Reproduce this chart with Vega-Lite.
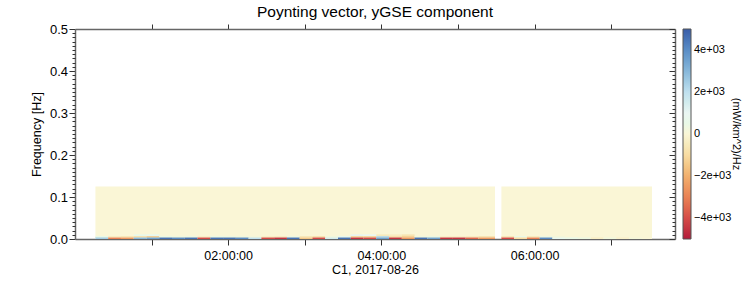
{
  "$schema": "https://vega.github.io/schema/vega-lite/v6.json",
  "autosize": {"type": "none"},
  "width": 600,
  "height": 210,
  "padding": {"left": 75, "top": 29, "right": 75, "bottom": 61},
  "background": "white",
  "config": {
    "font": "Liberation Sans",
    "view": {"stroke": null},
    "axis": {"grid": false, "domainColor": "#666", "domainWidth": 1.5, "tickColor": "#333", "tickWidth": 1, "labelColor": "black", "titleColor": "black", "labelFont": "Liberation Sans", "titleFont": "Liberation Sans", "titleFontWeight": "normal"},
    "legend": {"labelFont": "Liberation Sans", "titleFont": "Liberation Sans", "labelColor": "black", "titleColor": "black"}
  },
  "title": {"text": "Poynting vector, yGSE component", "fontSize": 15.5, "fontWeight": "normal", "font": "Liberation Sans", "color": "black", "anchor": "middle", "offset": 3},
  "data": {"values": [
    {"t0": "2017-08-26T00:16:00Z", "t1": "2017-08-26T05:29:00Z", "f0": 0, "f1": 0.125, "v": 0},
    {"t0": "2017-08-26T05:34:00Z", "t1": "2017-08-26T07:32:00Z", "f0": 0, "f1": 0.125, "v": 0},
    {"t0": "2017-08-26T00:16:00Z", "t1": "2017-08-26T00:26:00Z", "f0": 0, "f1": 0.004, "v": 2500},
    {"t0": "2017-08-26T00:26:00Z", "t1": "2017-08-26T00:36:00Z", "f0": 0, "f1": 0.004, "v": -3000},
    {"t0": "2017-08-26T00:36:00Z", "t1": "2017-08-26T00:46:00Z", "f0": 0, "f1": 0.004, "v": -2500},
    {"t0": "2017-08-26T00:46:00Z", "t1": "2017-08-26T00:56:00Z", "f0": 0, "f1": 0.004, "v": 3000},
    {"t0": "2017-08-26T00:56:00Z", "t1": "2017-08-26T01:06:00Z", "f0": 0, "f1": 0.004, "v": 3500},
    {"t0": "2017-08-26T01:06:00Z", "t1": "2017-08-26T01:16:00Z", "f0": 0, "f1": 0.004, "v": 4500},
    {"t0": "2017-08-26T01:16:00Z", "t1": "2017-08-26T01:26:00Z", "f0": 0, "f1": 0.004, "v": 4000},
    {"t0": "2017-08-26T01:26:00Z", "t1": "2017-08-26T01:36:00Z", "f0": 0, "f1": 0.004, "v": 4500},
    {"t0": "2017-08-26T01:36:00Z", "t1": "2017-08-26T01:46:00Z", "f0": 0, "f1": 0.004, "v": -4000},
    {"t0": "2017-08-26T01:46:00Z", "t1": "2017-08-26T01:56:00Z", "f0": 0, "f1": 0.004, "v": 4500},
    {"t0": "2017-08-26T01:56:00Z", "t1": "2017-08-26T02:06:00Z", "f0": 0, "f1": 0.004, "v": 4500},
    {"t0": "2017-08-26T02:06:00Z", "t1": "2017-08-26T02:16:00Z", "f0": 0, "f1": 0.004, "v": 4000},
    {"t0": "2017-08-26T02:16:00Z", "t1": "2017-08-26T02:26:00Z", "f0": 0, "f1": 0.004, "v": 2000},
    {"t0": "2017-08-26T02:26:00Z", "t1": "2017-08-26T02:36:00Z", "f0": 0, "f1": 0.004, "v": -4000},
    {"t0": "2017-08-26T02:36:00Z", "t1": "2017-08-26T02:46:00Z", "f0": 0, "f1": 0.004, "v": -4500},
    {"t0": "2017-08-26T02:46:00Z", "t1": "2017-08-26T02:56:00Z", "f0": 0, "f1": 0.004, "v": 4500},
    {"t0": "2017-08-26T02:56:00Z", "t1": "2017-08-26T03:06:00Z", "f0": 0, "f1": 0.004, "v": -1500},
    {"t0": "2017-08-26T03:06:00Z", "t1": "2017-08-26T03:16:00Z", "f0": 0, "f1": 0.004, "v": -4000},
    {"t0": "2017-08-26T03:16:00Z", "t1": "2017-08-26T03:26:00Z", "f0": 0, "f1": 0.004, "v": 1500},
    {"t0": "2017-08-26T03:26:00Z", "t1": "2017-08-26T03:36:00Z", "f0": 0, "f1": 0.004, "v": 4500},
    {"t0": "2017-08-26T03:36:00Z", "t1": "2017-08-26T03:46:00Z", "f0": 0, "f1": 0.004, "v": -4500},
    {"t0": "2017-08-26T03:46:00Z", "t1": "2017-08-26T03:56:00Z", "f0": 0, "f1": 0.004, "v": -4000},
    {"t0": "2017-08-26T03:56:00Z", "t1": "2017-08-26T04:06:00Z", "f0": 0, "f1": 0.004, "v": 3500},
    {"t0": "2017-08-26T04:06:00Z", "t1": "2017-08-26T04:16:00Z", "f0": 0, "f1": 0.004, "v": -4500},
    {"t0": "2017-08-26T04:16:00Z", "t1": "2017-08-26T04:26:00Z", "f0": 0, "f1": 0.004, "v": -2500},
    {"t0": "2017-08-26T04:26:00Z", "t1": "2017-08-26T04:36:00Z", "f0": 0, "f1": 0.004, "v": 4500},
    {"t0": "2017-08-26T04:36:00Z", "t1": "2017-08-26T04:46:00Z", "f0": 0, "f1": 0.004, "v": 3500},
    {"t0": "2017-08-26T04:46:00Z", "t1": "2017-08-26T04:56:00Z", "f0": 0, "f1": 0.004, "v": -4500},
    {"t0": "2017-08-26T04:56:00Z", "t1": "2017-08-26T05:06:00Z", "f0": 0, "f1": 0.004, "v": -4500},
    {"t0": "2017-08-26T05:06:00Z", "t1": "2017-08-26T05:16:00Z", "f0": 0, "f1": 0.004, "v": -3500},
    {"t0": "2017-08-26T05:16:00Z", "t1": "2017-08-26T05:29:00Z", "f0": 0, "f1": 0.004, "v": -2500},
    {"t0": "2017-08-26T00:16:00Z", "t1": "2017-08-26T00:26:00Z", "f0": 0.004, "f1": 0.007, "v": 500},
    {"t0": "2017-08-26T00:26:00Z", "t1": "2017-08-26T00:36:00Z", "f0": 0.004, "f1": 0.007, "v": -400},
    {"t0": "2017-08-26T00:36:00Z", "t1": "2017-08-26T00:46:00Z", "f0": 0.004, "f1": 0.007, "v": -600},
    {"t0": "2017-08-26T00:46:00Z", "t1": "2017-08-26T00:56:00Z", "f0": 0.004, "f1": 0.007, "v": -900},
    {"t0": "2017-08-26T00:56:00Z", "t1": "2017-08-26T01:06:00Z", "f0": 0.004, "f1": 0.007, "v": -1400},
    {"t0": "2017-08-26T01:06:00Z", "t1": "2017-08-26T01:16:00Z", "f0": 0.004, "f1": 0.007, "v": 400},
    {"t0": "2017-08-26T01:16:00Z", "t1": "2017-08-26T01:26:00Z", "f0": 0.004, "f1": 0.007, "v": 200},
    {"t0": "2017-08-26T01:26:00Z", "t1": "2017-08-26T01:36:00Z", "f0": 0.004, "f1": 0.007, "v": 300},
    {"t0": "2017-08-26T01:36:00Z", "t1": "2017-08-26T01:46:00Z", "f0": 0.004, "f1": 0.007, "v": -300},
    {"t0": "2017-08-26T01:46:00Z", "t1": "2017-08-26T01:56:00Z", "f0": 0.004, "f1": 0.007, "v": 400},
    {"t0": "2017-08-26T01:56:00Z", "t1": "2017-08-26T02:06:00Z", "f0": 0.004, "f1": 0.007, "v": 300},
    {"t0": "2017-08-26T02:06:00Z", "t1": "2017-08-26T02:16:00Z", "f0": 0.004, "f1": 0.007, "v": 200},
    {"t0": "2017-08-26T02:16:00Z", "t1": "2017-08-26T02:26:00Z", "f0": 0.004, "f1": 0.007, "v": 100},
    {"t0": "2017-08-26T02:26:00Z", "t1": "2017-08-26T02:36:00Z", "f0": 0.004, "f1": 0.007, "v": -300},
    {"t0": "2017-08-26T02:36:00Z", "t1": "2017-08-26T02:46:00Z", "f0": 0.004, "f1": 0.007, "v": -400},
    {"t0": "2017-08-26T02:46:00Z", "t1": "2017-08-26T02:56:00Z", "f0": 0.004, "f1": 0.007, "v": 300},
    {"t0": "2017-08-26T02:56:00Z", "t1": "2017-08-26T03:06:00Z", "f0": 0.004, "f1": 0.007, "v": -600},
    {"t0": "2017-08-26T03:06:00Z", "t1": "2017-08-26T03:16:00Z", "f0": 0.004, "f1": 0.007, "v": -800},
    {"t0": "2017-08-26T03:16:00Z", "t1": "2017-08-26T03:26:00Z", "f0": 0.004, "f1": 0.007, "v": 200},
    {"t0": "2017-08-26T03:26:00Z", "t1": "2017-08-26T03:36:00Z", "f0": 0.004, "f1": 0.007, "v": 700},
    {"t0": "2017-08-26T03:36:00Z", "t1": "2017-08-26T03:46:00Z", "f0": 0.004, "f1": 0.007, "v": -1200},
    {"t0": "2017-08-26T03:46:00Z", "t1": "2017-08-26T03:56:00Z", "f0": 0.004, "f1": 0.007, "v": -1200},
    {"t0": "2017-08-26T03:56:00Z", "t1": "2017-08-26T04:06:00Z", "f0": 0.004, "f1": 0.007, "v": 2200},
    {"t0": "2017-08-26T04:06:00Z", "t1": "2017-08-26T04:16:00Z", "f0": 0.004, "f1": 0.007, "v": -900},
    {"t0": "2017-08-26T04:16:00Z", "t1": "2017-08-26T04:26:00Z", "f0": 0.004, "f1": 0.007, "v": -1300},
    {"t0": "2017-08-26T04:26:00Z", "t1": "2017-08-26T04:36:00Z", "f0": 0.004, "f1": 0.007, "v": 200},
    {"t0": "2017-08-26T04:36:00Z", "t1": "2017-08-26T04:46:00Z", "f0": 0.004, "f1": 0.007, "v": 300},
    {"t0": "2017-08-26T04:46:00Z", "t1": "2017-08-26T04:56:00Z", "f0": 0.004, "f1": 0.007, "v": -300},
    {"t0": "2017-08-26T04:56:00Z", "t1": "2017-08-26T05:06:00Z", "f0": 0.004, "f1": 0.007, "v": -300},
    {"t0": "2017-08-26T05:06:00Z", "t1": "2017-08-26T05:16:00Z", "f0": 0.004, "f1": 0.007, "v": -400},
    {"t0": "2017-08-26T05:16:00Z", "t1": "2017-08-26T05:29:00Z", "f0": 0.004, "f1": 0.007, "v": -700},
    {"t0": "2017-08-26T00:46:00Z", "t1": "2017-08-26T00:56:00Z", "f0": 0.007, "f1": 0.011, "v": 600},
    {"t0": "2017-08-26T00:56:00Z", "t1": "2017-08-26T01:06:00Z", "f0": 0.007, "f1": 0.011, "v": 800},
    {"t0": "2017-08-26T03:36:00Z", "t1": "2017-08-26T03:46:00Z", "f0": 0.007, "f1": 0.011, "v": 1100},
    {"t0": "2017-08-26T03:46:00Z", "t1": "2017-08-26T03:56:00Z", "f0": 0.007, "f1": 0.011, "v": 900},
    {"t0": "2017-08-26T03:56:00Z", "t1": "2017-08-26T04:06:00Z", "f0": 0.007, "f1": 0.011, "v": -500},
    {"t0": "2017-08-26T04:06:00Z", "t1": "2017-08-26T04:16:00Z", "f0": 0.007, "f1": 0.011, "v": -400},
    {"t0": "2017-08-26T04:16:00Z", "t1": "2017-08-26T04:26:00Z", "f0": 0.007, "f1": 0.011, "v": -700},
    {"t0": "2017-08-26T05:34:00Z", "t1": "2017-08-26T05:44:00Z", "f0": 0, "f1": 0.004, "v": -4000},
    {"t0": "2017-08-26T05:44:00Z", "t1": "2017-08-26T05:54:00Z", "f0": 0, "f1": 0.004, "v": -1000},
    {"t0": "2017-08-26T05:54:00Z", "t1": "2017-08-26T06:04:00Z", "f0": 0, "f1": 0.004, "v": -3000},
    {"t0": "2017-08-26T06:04:00Z", "t1": "2017-08-26T06:14:00Z", "f0": 0, "f1": 0.004, "v": 4000},
    {"t0": "2017-08-26T06:14:00Z", "t1": "2017-08-26T06:24:00Z", "f0": 0, "f1": 0.004, "v": 800},
    {"t0": "2017-08-26T06:24:00Z", "t1": "2017-08-26T06:34:00Z", "f0": 0, "f1": 0.004, "v": 500},
    {"t0": "2017-08-26T06:34:00Z", "t1": "2017-08-26T06:44:00Z", "f0": 0, "f1": 0.004, "v": 300},
    {"t0": "2017-08-26T06:44:00Z", "t1": "2017-08-26T06:54:00Z", "f0": 0, "f1": 0.004, "v": -300},
    {"t0": "2017-08-26T06:54:00Z", "t1": "2017-08-26T07:04:00Z", "f0": 0, "f1": 0.004, "v": 200},
    {"t0": "2017-08-26T07:04:00Z", "t1": "2017-08-26T07:14:00Z", "f0": 0, "f1": 0.004, "v": -200},
    {"t0": "2017-08-26T07:14:00Z", "t1": "2017-08-26T07:24:00Z", "f0": 0, "f1": 0.004, "v": 100},
    {"t0": "2017-08-26T05:34:00Z", "t1": "2017-08-26T05:44:00Z", "f0": 0.004, "f1": 0.007, "v": -600},
    {"t0": "2017-08-26T05:44:00Z", "t1": "2017-08-26T05:54:00Z", "f0": 0.004, "f1": 0.007, "v": 500},
    {"t0": "2017-08-26T05:54:00Z", "t1": "2017-08-26T06:04:00Z", "f0": 0.004, "f1": 0.007, "v": -500},
    {"t0": "2017-08-26T06:04:00Z", "t1": "2017-08-26T06:14:00Z", "f0": 0.004, "f1": 0.007, "v": 300},
    {"t0": "2017-08-26T06:14:00Z", "t1": "2017-08-26T06:24:00Z", "f0": 0.004, "f1": 0.007, "v": 150}
  ]},
  "layer": [
    {
      "mark": {"type": "rect", "strokeWidth": 0},
      "encoding": {
        "x": {"field": "t0", "type": "temporal",
          "scale": {"type": "utc", "domain": [{"year": 2017, "month": 8, "date": 26, "hours": 0, "utc": true}, {"year": 2017, "month": 8, "date": 26, "hours": 7, "minutes": 50, "utc": true}]},
          "axis": {"orient": "bottom",
            "values": [{"year": 2017, "month": 8, "date": 26, "hours": 1, "utc": true}, {"year": 2017, "month": 8, "date": 26, "hours": 2, "utc": true}, {"year": 2017, "month": 8, "date": 26, "hours": 3, "utc": true}, {"year": 2017, "month": 8, "date": 26, "hours": 4, "utc": true}, {"year": 2017, "month": 8, "date": 26, "hours": 5, "utc": true}, {"year": 2017, "month": 8, "date": 26, "hours": 6, "utc": true}, {"year": 2017, "month": 8, "date": 26, "hours": 7, "utc": true}],
            "labelExpr": "utchours(datum.value) % 2 == 0 ? utcFormat(datum.value, '%H:%M:%S') : ''",
            "labelFlush": false, "labelOverlap": false,
            "tickSize": 6, "labelPadding": 4, "labelFontSize": 12.5,
            "title": "C1, 2017-08-26", "titleFontSize": 12.5, "titlePadding": 2}},
        "x2": {"field": "t1"},
        "y": {"field": "f0", "type": "quantitative",
          "scale": {"domain": [0, 0.5], "nice": false, "zero": false},
          "axis": {"orient": "left", "values": [0, 0.1, 0.2, 0.3, 0.4, 0.5], "format": ".1f",
            "tickSize": 6, "labelPadding": 1.5, "labelFontSize": 13,
            "title": "Frequency [Hz]", "titleFontSize": 12.5, "titlePadding": 6}},
        "y2": {"field": "f1"},
        "color": {"field": "v", "type": "quantitative",
          "scale": {"domain": [-5000, -4000, -3000, -2000, -1000, 0, 1000, 2000, 4000, 5000],
            "range": ["#b31b3c", "#d54c48", "#e98255", "#f2b06e", "#f8dca2", "#faf6d6", "#eaf6f3", "#bfe0ef", "#5a8dc6", "#3a5da8"]},
          "legend": {"orient": "right", "type": "gradient", "direction": "vertical", "offset": 7, "padding": 0,
            "values": [-4000, -2000, 0, 2000, 4000],
            "labelExpr": "datum.value == 0 ? '0' : format(datum.value / 1000, 'd') + 'e+03'",
            "gradientLength": 210, "gradientThickness": 8, "gradientStrokeColor": "#555", "gradientStrokeWidth": 1,
            "labelFontSize": 11, "labelOffset": 3,
            "title": "(mW/km^2)/Hz", "titleOrient": "right", "titleAngle": 270, "titleFontSize": 11, "titleFontWeight": "normal", "titlePadding": 0, "titleAnchor": "middle"}}
      }
    },
    {
      "mark": {"type": "rect", "opacity": 0},
      "encoding": {
        "x": {"field": "t0", "type": "temporal",
          "axis": {"orient": "top",
            "values": [{"year": 2017, "month": 8, "date": 26, "hours": 1, "utc": true}, {"year": 2017, "month": 8, "date": 26, "hours": 2, "utc": true}, {"year": 2017, "month": 8, "date": 26, "hours": 3, "utc": true}, {"year": 2017, "month": 8, "date": 26, "hours": 4, "utc": true}, {"year": 2017, "month": 8, "date": 26, "hours": 5, "utc": true}, {"year": 2017, "month": 8, "date": 26, "hours": 6, "utc": true}, {"year": 2017, "month": 8, "date": 26, "hours": 7, "utc": true}],
            "labels": false, "tickSize": 5, "title": null}},
        "x2": {"field": "t1"},
        "y": {"field": "f0", "type": "quantitative",
          "axis": {"orient": "right", "values": [0, 0.1, 0.2, 0.3, 0.4, 0.5], "labels": false, "tickSize": -6, "title": null}},
        "y2": {"field": "f1"}
      }
    },
    {
      "mark": {"type": "rect", "opacity": 0},
      "encoding": {
        "x": {"field": "t0", "type": "temporal", "axis": null},
        "x2": {"field": "t1"},
        "y": {"field": "f0", "type": "quantitative",
          "axis": {"orient": "left", "domain": false, "labels": false, "tickSize": 3, "title": null,
            "values": [0.01, 0.02, 0.03, 0.04, 0.05, 0.06, 0.07, 0.08, 0.09, 0.11, 0.12, 0.13, 0.14, 0.15, 0.16, 0.17, 0.18, 0.19, 0.21, 0.22, 0.23, 0.24, 0.25, 0.26, 0.27, 0.28, 0.29, 0.31, 0.32, 0.33, 0.34, 0.35, 0.36, 0.37, 0.38, 0.39, 0.41, 0.42, 0.43, 0.44, 0.45, 0.46, 0.47, 0.48, 0.49]}},
        "y2": {"field": "f1"}
      }
    },
    {
      "mark": {"type": "rect", "opacity": 0},
      "encoding": {
        "x": {"field": "t0", "type": "temporal", "axis": null},
        "x2": {"field": "t1"},
        "y": {"field": "f0", "type": "quantitative",
          "axis": {"orient": "right", "domain": false, "labels": false, "tickSize": -3, "title": null,
            "values": [0.01, 0.02, 0.03, 0.04, 0.05, 0.06, 0.07, 0.08, 0.09, 0.11, 0.12, 0.13, 0.14, 0.15, 0.16, 0.17, 0.18, 0.19, 0.21, 0.22, 0.23, 0.24, 0.25, 0.26, 0.27, 0.28, 0.29, 0.31, 0.32, 0.33, 0.34, 0.35, 0.36, 0.37, 0.38, 0.39, 0.41, 0.42, 0.43, 0.44, 0.45, 0.46, 0.47, 0.48, 0.49]}},
        "y2": {"field": "f1"}
      }
    }
  ],
  "resolve": {"axis": {"x": "independent", "y": "independent"}}
}
